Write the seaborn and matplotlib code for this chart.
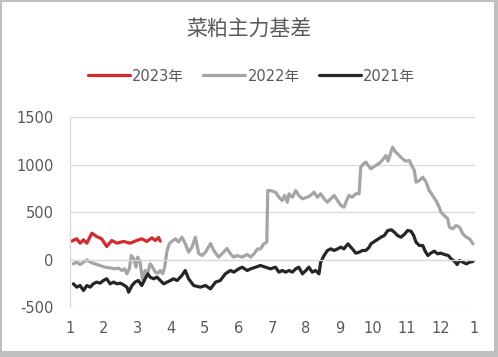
import numpy as np
import pandas as pd
import matplotlib
matplotlib.use("Agg")
import matplotlib.pyplot as plt
from matplotlib.patches import Rectangle
import seaborn as sns

# month position (1 = Jan, 13 = next Jan) and basis values
x_2023 = [1.05, 1.20, 1.30, 1.40, 1.50, 1.65, 1.79, 1.94, 2.09, 2.24, 2.39, 2.59,
          2.79, 2.98, 3.13, 3.28, 3.43, 3.53, 3.63, 3.68]
y_2023 = [193, 218, 172, 207, 172, 277, 242, 218, 137, 200, 172, 190,
          172, 200, 218, 190, 228, 200, 232, 193]

x_2022 = [1.10, 1.20, 1.30, 1.40, 1.50, 1.60, 1.74, 1.89, 2.04, 2.19, 2.34, 2.44,
          2.54, 2.62, 2.69, 2.76, 2.82, 2.89, 2.96, 3.01, 3.08, 3.15, 3.23, 3.31,
          3.38, 3.45, 3.53, 3.61, 3.68, 3.75, 3.81, 3.88, 3.95, 4.03, 4.13, 4.22,
          4.32, 4.42, 4.52, 4.62, 4.72, 4.82, 4.92, 5.02, 5.17, 5.26, 5.41, 5.51,
          5.66, 5.76, 5.86, 5.96, 6.11, 6.26, 6.36, 6.46, 6.56, 6.66, 6.75, 6.84,
          6.87, 6.95, 7.10, 7.20, 7.30, 7.37, 7.45, 7.50, 7.60, 7.70, 7.79, 7.90,
          8.04, 8.14, 8.24, 8.34, 8.44, 8.54, 8.64, 8.74, 8.84, 8.94, 9.04, 9.13,
          9.21, 9.28, 9.38, 9.48, 9.58, 9.63, 9.71, 9.78, 9.85, 9.93, 10.03, 10.18,
          10.28, 10.38, 10.44, 10.57, 10.67, 10.77, 10.87, 10.97, 11.07, 11.14, 11.22, 11.27,
          11.37, 11.47, 11.57, 11.66, 11.76, 11.86, 11.96, 12.01, 12.11, 12.21, 12.26, 12.36,
          12.46, 12.56, 12.66, 12.76, 12.86, 12.96]
y_2022 = [-46, -28, -53, -28, -4, -28, -46, -63, -81, -88, -98, -91,
          -116, -98, -151, -98, 42, 7, -81, 25, -28, -210, -116, -133,
          -46, -81, -133, -144, -116, -150, -81, 95, 168, 193, 218, 185,
          235, 168, 77, 130, 235, 63, 42, 77, 168, 98, 25, 60,
          116, 60, 25, 42, 25, 53, 25, 60, 110, 112, 165, 182,
          726, 726, 709, 656, 621, 674, 603, 692, 656, 726, 674, 639,
          656, 674, 709, 656, 692, 639, 603, 639, 674, 621, 569, 551,
          621, 674, 656, 692, 692, 972, 1007, 1025, 990, 955, 979, 1014,
          1049, 1095, 1035, 1182, 1130, 1095, 1060, 1035, 1042, 990, 937, 814,
          832, 867, 814, 726, 674, 621, 551, 498, 463, 428, 340, 323,
          358, 340, 270, 235, 218, 165]

x_2021 = [1.10, 1.20, 1.30, 1.40, 1.50, 1.60, 1.69, 1.79, 1.89, 1.99, 2.09, 2.19,
          2.29, 2.39, 2.49, 2.59, 2.69, 2.74, 2.84, 2.93, 3.03, 3.13, 3.23, 3.31,
          3.38, 3.48, 3.58, 3.68, 3.78, 3.88, 3.98, 4.07, 4.18, 4.32, 4.42, 4.52,
          4.67, 4.87, 5.02, 5.17, 5.32, 5.46, 5.61, 5.76, 5.86, 6.01, 6.11, 6.26,
          6.36, 6.51, 6.65, 6.80, 6.95, 7.10, 7.20, 7.30, 7.40, 7.50, 7.60, 7.70,
          7.79, 7.90, 8.00, 8.09, 8.19, 8.29, 8.39, 8.44, 8.54, 8.64, 8.74, 8.84,
          8.94, 9.04, 9.13, 9.25, 9.38, 9.48, 9.58, 9.68, 9.78, 9.88, 9.93, 10.08,
          10.23, 10.33, 10.43, 10.54, 10.62, 10.72, 10.82, 10.92, 11.02, 11.12, 11.20, 11.27,
          11.37, 11.47, 11.54, 11.62, 11.71, 11.81, 11.91, 12.01, 12.11, 12.23, 12.31, 12.41,
          12.49, 12.56, 12.66, 12.76, 12.86, 12.96]
y_2021 = [-256, -291, -274, -326, -274, -291, -256, -238, -249, -221, -203, -256,
          -238, -256, -249, -267, -291, -344, -274, -238, -221, -274, -203, -151,
          -186, -203, -186, -221, -256, -238, -221, -203, -221, -168, -116, -203,
          -274, -291, -274, -309, -238, -221, -151, -116, -133, -98, -81, -116,
          -98, -81, -63, -81, -98, -81, -133, -116, -133, -116, -133, -98,
          -81, -151, -116, -81, -133, -116, -151, -28, 42, 95, 112, 95,
          112, 130, 112, 165, 112, 67, 77, 95, 95, 130, 165, 200,
          235, 253, 305, 312, 290, 253, 235, 263, 305, 298, 253, 182,
          147, 147, 88, 42, 67, 88, 60, 67, 53, 42, 7, -18,
          -53, -11, -28, -46, -28, -21]

month_ticks = list(range(1, 14))
month_labels = [str(m) for m in range(1, 13)] + ["1"]
y_ticks = [-500, 0, 500, 1000, 1500]

series = [("2023年", x_2023, y_2023, "#d42b2b"),
          ("2022年", x_2022, y_2022, "#a5a5a5"),
          ("2021年", x_2021, y_2021, "#262626")]

sns.set_style("white")
plt.rcParams["font.family"] = ["DejaVu Sans", "Noto Sans CJK SC"]
txt = "#595959"
grid = "#d9d9d9"

fig = plt.figure(figsize=(4.98, 3.57), dpi=100)
ax = fig.add_axes([70 / 498, 1 - 307 / 357, 405 / 498, 190 / 357])

for name, xs, ys, col in series:
    df = pd.DataFrame({"month": xs, "basis": ys})
    sns.lineplot(data=df, x="month", y="basis", ax=ax, color=col, linewidth=2.3,
                 label=name, sort=False, estimator=None)

ax.set_xlim(1, 13.02)
ax.set_ylim(-500, 1500)
ax.set_yticks(y_ticks)
ax.set_yticklabels([str(v) for v in y_ticks])
ax.yaxis.grid(True, color=grid, linewidth=0.9)
ax.set_axisbelow(True)
ax.set_xlabel("")
ax.set_ylabel("")

for s in ["top", "right"]:
    ax.spines[s].set_visible(False)
ax.spines["left"].set_color(grid)
ax.spines["left"].set_linewidth(0.9)
# category axis crosses at zero, labels sit low
ax.spines["bottom"].set_position(("data", 0))
ax.spines["bottom"].set_color(grid)
ax.spines["bottom"].set_linewidth(0.9)
ax.set_xticks(month_ticks)
ax.set_xticklabels([])
ax.tick_params(axis="x", length=4, width=0.9, color=grid, direction="out")
ax.tick_params(axis="y", length=0, pad=12, labelsize=10.5, labelcolor=txt)

sec = ax.secondary_xaxis("bottom")
sec.set_xticks(month_ticks)
sec.set_xticklabels(month_labels)
sec.tick_params(length=0, pad=10, labelsize=10.5, labelcolor=txt)
sec.spines["bottom"].set_visible(False)

ax.get_legend().remove()
handles, labels = ax.get_legend_handles_labels()
fig.legend(handles, labels, loc="center", bbox_to_anchor=(251.5 / 498, 1 - 76 / 357),
           ncol=3, frameon=False, fontsize=10.5, labelcolor=txt, borderpad=0,
           handlelength=2.9, handletextpad=0.15, columnspacing=1.3)

fig.text(249 / 498, 1 - 30 / 357, "菜粕主力基差", ha="center", va="center",
         fontsize=15, color=txt, family=["Noto Sans CJK SC", "DejaVu Sans"])

# chart frame
W, H = 498, 357
edge = "#bfbfbf"
for (x0, y0, w, h) in [(0, H - 1.5, W, 1.5), (0, 0, 2, H), (W - 4, 0, 4, H), (0, 0, W, 6)]:
    fig.add_artist(Rectangle((x0 / W, y0 / H), w / W, h / H, transform=fig.transFigure,
                             facecolor=edge, edgecolor="none"))

fig.savefig("out.png", dpi=100)
